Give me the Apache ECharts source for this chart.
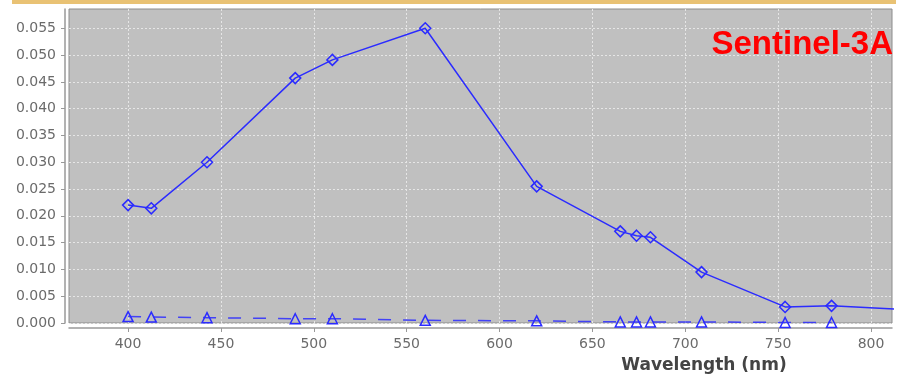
<!DOCTYPE html>
<html>
<head>
<meta charset="utf-8">
<script src="https://cdn.jsdelivr.net/npm/echarts@6/dist/echarts.min.js"></script>
<style>
html,body{margin:0;padding:0;background:#fff;}
#chart{width:909px;height:379px;}
</style>
</head>
<body>
<div id="chart"></div>
<script>
const wavelengthsA = [400, 412.5, 442.5, 490, 510, 560, 620, 665, 673.75, 681.25, 708.75, 753.75, 778.75, 865];
const reflectanceA = [0.0220, 0.0214, 0.0300, 0.0457, 0.0491, 0.0550, 0.0255, 0.0171, 0.0163, 0.0160, 0.0095, 0.0030, 0.0032, 0.0017];
const wavelengthsB = [400, 412.5, 442.5, 490, 510, 560, 620, 665, 673.75, 681.25, 708.75, 753.75, 778.75];
const reflectanceB = [0.0012, 0.0011, 0.0010, 0.0008, 0.0008, 0.0005, 0.0004, 0.0002, 0.0002, 0.0002, 0.0002, 0.0001, 0.0001];
const xTicks = [400, 450, 500, 550, 600, 650, 700, 750, 800];
const yTicks = [0, 0.005, 0.010, 0.015, 0.020, 0.025, 0.030, 0.035, 0.040, 0.045, 0.050, 0.055];
const labelText = 'Sentinel-3A';
const xAxisTitle = 'Wavelength (nm)';

const chart = echarts.init(document.getElementById('chart'), null, {renderer: 'canvas'});
const blue = '#2b2bff';
const tickFont = {fontFamily: 'DejaVu Sans', fontSize: 14, color: '#6b6b6b'};
const option = {
  animation: false,
  backgroundColor: '#ffffff',
  grid: {
    left: 69, right: 17, top: 9, bottom: 56,
    show: true, backgroundColor: '#c0c0c0', borderColor: '#8c8c8c', borderWidth: 1
  },
  xAxis: {
    type: 'value', min: 368.2, max: 811.3, offset: 5,
    axisLine: {show: true, onZero: false, lineStyle: {color: '#999', width: 1.5}},
    axisTick: {show: true, length: 4, inside: false, customValues: xTicks, lineStyle: {color: '#999'}},
    axisLabel: Object.assign({customValues: xTicks, margin: 9}, tickFont),
    splitLine: {show: true, lineStyle: {color: '#e6e6e6', type: [2, 2], width: 1}}
  },
  yAxis: {
    type: 'value', min: 0, max: 0.0586, offset: 4,
    axisLine: {show: true, onZero: false, lineStyle: {color: '#999', width: 1.5}},
    axisTick: {show: true, length: 4, customValues: yTicks, lineStyle: {color: '#999'}},
    axisLabel: Object.assign({customValues: yTicks, margin: 9, formatter: v => v.toFixed(3)}, tickFont),
    splitLine: {show: true, lineStyle: {color: '#e6e6e6', type: [2, 2], width: 1}}
  },
  series: [
    {
      type: 'line',
      data: wavelengthsA.map((w, i) => [w, reflectanceA[i]]),
      symbol: 'diamond', symbolSize: 11, showAllSymbol: true,
      lineStyle: {color: blue, width: 1.5},
      itemStyle: {color: 'rgba(0,0,0,0)', borderColor: blue, borderWidth: 1.5},
      clip: true
    },
    {
      type: 'line',
      data: wavelengthsB.map((w, i) => [w, reflectanceB[i]]),
      symbol: 'triangle', symbolSize: 10, showAllSymbol: true,
      lineStyle: {color: blue, width: 1.5, type: [13, 12], opacity: 0.85},
      itemStyle: {color: 'rgba(0,0,0,0)', borderColor: blue, borderWidth: 1.5},
      clip: true
    }
  ],
  graphic: [
    {type: 'rect', left: 12, top: 0, shape: {width: 884, height: 4}, style: {fill: '#e9c274'}, silent: true},
    {type: 'text', x: 893, y: 45, style: {text: labelText, fill: '#ff0000', font: 'bold 33px "Liberation Sans", Arial, sans-serif', align: 'right', verticalAlign: 'middle'}, z: 10},
    {type: 'text', x: 704, y: 366, style: {text: xAxisTitle, fill: '#444444', font: 'bold 17px "DejaVu Sans", sans-serif', align: 'center', verticalAlign: 'middle'}}
  ]
};
chart.setOption(option);
</script>
</body>
</html>
